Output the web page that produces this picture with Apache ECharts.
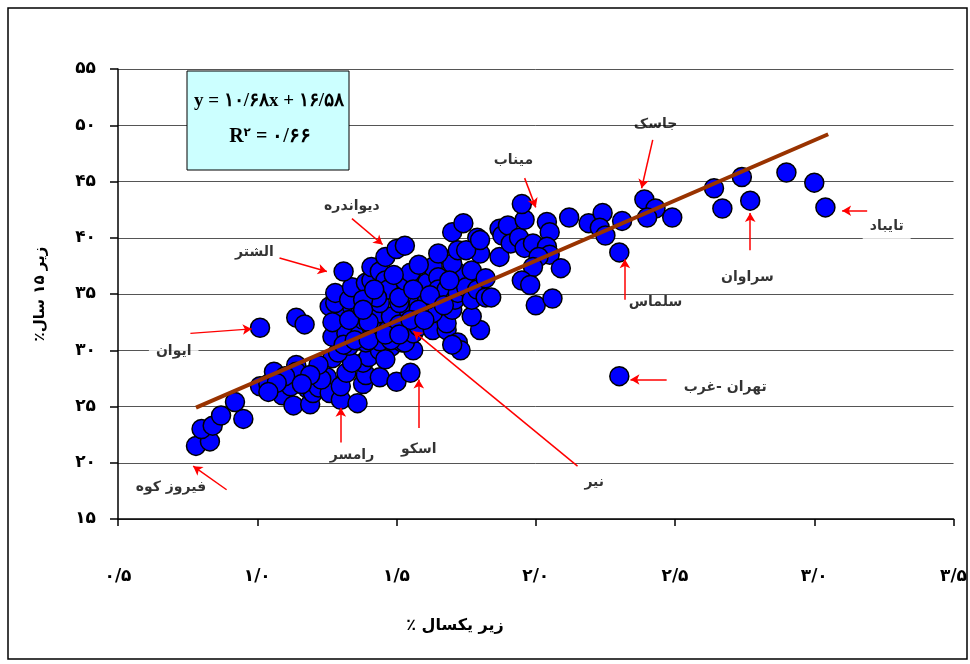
<!DOCTYPE html>
<html>
<head>
<meta charset="utf-8">
<script src="https://cdn.jsdelivr.net/npm/echarts@6/dist/echarts.min.js"></script>
<style>
html,body{margin:0;padding:0;background:#fff;}
#chart{width:970px;height:664px;}
</style>
</head>
<body>
<div id="chart"></div>
<script>
// ---- data ----
const xTickValues = [0.5, 1.0, 1.5, 2.0, 2.5, 3.0, 3.5];
const xTickLabels = ['۰/۵', '۱/۰', '۱/۵', '۲/۰', '۲/۵', '۳/۰', '۳/۵'];
const yTickValues = [15, 20, 25, 30, 35, 40, 45, 50, 55];
const yTickLabels = ['۱۵', '۲۰', '۲۵', '۳۰', '۳۵', '۴۰', '۴۵', '۵۰', '۵۵'];

const xTitle = 'زیر یکسال ٪';
const yTitle = 'زیر ۱۵ سال٪';
const equationLine = 'y = ۱۰/۶۸x + ۱۶/۵۸';
const r2Value = '۰/۶۶';

// under-one-year % (x) and under-15 % (y) for each county
const pointsX = [
  0.78,0.83,0.80,0.84,0.87,0.92,0.95,1.01,1.04,1.06,1.09,1.11,1.13,1.14,1.12,1.19,1.18,1.20,1.21,1.22,
  1.25,1.26,1.14,1.10,1.23,1.27,1.30,1.36,1.30,1.32,1.38,1.39,1.44,1.50,1.55,1.38,1.40,1.32,1.34,1.29,
  1.44,1.48,1.52,1.56,1.46,1.39,1.33,1.27,1.32,1.37,1.41,1.47,1.53,1.44,1.48,1.31,1.38,1.44,1.50,1.26,
  1.34,1.27,1.33,1.40,1.01,1.14,1.17,1.56,1.58,1.63,1.68,1.68,1.72,1.73,1.70,1.80,1.63,1.70,1.77,1.53,
  1.48,1.51,1.58,1.44,1.37,1.28,1.28,1.33,1.34,1.31,1.39,1.41,1.41,1.44,1.46,1.50,1.53,1.46,1.47,1.43,
  1.51,1.53,1.57,1.55,1.61,1.63,1.65,1.65,1.68,1.61,1.71,1.72,1.72,1.70,1.75,1.77,1.77,1.79,1.82,1.82,
  1.84,1.87,1.80,1.72,1.65,1.70,1.74,1.79,1.75,1.80,1.87,1.88,1.90,1.91,1.94,1.96,1.99,1.96,1.95,2.04,
  2.05,2.04,2.05,2.01,1.99,1.95,1.98,2.00,2.06,2.09,2.12,2.19,2.24,2.23,2.25,2.31,2.30,2.39,2.43,2.40,
  2.49,2.64,2.67,2.74,2.77,2.90,3.00,3.04,2.30,1.56,1.58,1.62,1.67,1.51,1.55,1.60,1.38,1.42,1.49,1.58,
  1.69,1.31,1.35,1.40,1.46,1.51,1.38,1.22,1.19,1.16,1.07,1.04
];
const pointsY = [
  21.5,21.9,23.0,23.3,24.2,25.4,23.9,26.8,27.0,28.1,26.0,27.7,25.1,28.7,26.8,25.2,26.6,26.2,27.6,26.7,
  27.6,26.2,28.1,27.7,27.4,29.3,25.6,25.3,26.8,28.0,27.0,27.8,27.6,27.2,28.0,28.9,29.4,30.0,28.9,29.8,
  30.0,30.3,30.7,30.0,29.2,30.7,30.4,31.2,31.5,31.5,32.1,31.8,30.7,30.8,30.9,33.0,32.7,33.3,32.7,33.9,
  33.9,32.5,32.7,32.5,32.0,32.9,32.3,31.5,32.1,31.8,31.8,32.4,30.7,30.0,30.5,31.8,33.3,33.6,33.0,33.3,
  33.0,34.2,34.2,34.2,33.9,34.2,35.1,34.5,35.6,37.0,36.0,36.2,37.4,37.0,38.3,39.0,39.3,36.2,35.4,34.7,
  34.7,36.2,36.0,36.9,36.0,37.4,36.5,35.4,35.4,34.5,34.5,35.1,36.9,37.7,35.6,37.1,34.5,35.4,36.4,34.7,
  34.7,38.3,38.6,38.9,38.6,40.5,41.3,40.0,38.9,39.8,40.8,40.2,41.1,39.5,40.0,39.1,39.5,41.6,43.0,41.4,
  40.5,39.2,38.5,38.3,37.4,36.2,35.8,34.0,34.6,37.3,41.8,41.3,42.2,40.9,40.2,41.5,38.7,43.4,42.6,41.8,
  41.8,44.4,42.6,45.4,43.3,45.8,44.9,42.7,27.7,35.4,33.6,34.9,34.0,32.3,32.7,32.7,34.5,35.4,36.7,37.6,
  36.2,30.5,30.9,30.9,31.4,31.4,33.6,28.7,27.8,27.0,27.1,26.3
];

// fitted trend line end points
const trendX = [0.78, 3.05];
const trendY = [24.9, 49.2];

// county annotations: label position and arrow (from -> to)
const annNames = ['فیروز کوه', 'الشتر', 'دیواندره', 'میناب', 'جاسک', 'سلماس', 'سراوان', 'تایباد', 'ایوان', 'رامسر', 'اسکو', 'نیر', 'تهران -غرب'];
const annLabelX = [0.69, 0.99, 1.34, 1.92, 2.43, 2.43, 2.76, 3.26, 0.70, 1.34, 1.58, 2.21, 2.68];
const annLabelY = [17.8, 38.7, 42.8, 46.9, 50.1, 34.3, 36.5, 41.0, 29.9, 20.7, 21.2, 18.3, 26.7];
const arrowFromX = [0.89, 1.08, 1.34, 1.96, 2.42, 2.32, 2.77, 3.19, 0.76, 1.30, 1.58, 2.15, 2.47];
const arrowFromY = [17.6, 38.2, 41.7, 45.3, 48.7, 34.5, 38.9, 42.4, 31.5, 21.8, 23.1, 19.7, 27.4];
const arrowToX   = [0.77, 1.25, 1.45, 2.00, 2.38, 2.32, 2.77, 3.10, 0.98, 1.30, 1.58, 1.56, 2.34];
const arrowToY   = [19.7, 37.0, 39.4, 42.7, 44.4, 38.1, 42.2, 42.4, 31.9, 24.9, 27.4, 31.7, 27.4];
const annWhiteBg = [false, false, false, true, false, false, false, true, true, false, false, false, false];

// ---- chart ----
const FONT = '"DejaVu Sans", "Noto Sans", sans-serif';
const RLM = '\u200F'; // keeps right-to-left paragraph order (percent sign on the left)
const chart = echarts.init(document.getElementById('chart'), null, {renderer: 'canvas'});

const points = pointsX.map((x, i) => [x, pointsY[i]]);
const trend = trendX.map((x, i) => [x, trendY[i]]);
const arrows = annNames.map((n, i) => [
  {coord: [arrowFromX[i], arrowFromY[i]]},
  {coord: [arrowToX[i], arrowToY[i]]}
]);
const labels = annNames.map((n, i) => ({
  name: n,
  value: [annLabelX[i], annLabelY[i]],
  label: annWhiteBg[i] ? {backgroundColor: '#fff', padding: i === 3 ? [3, 8, 14, 8] : [4, 7, 8, 7]} : {}
}));

const option = {
  animation: false,
  backgroundColor: '#fff',
  grid: {left: 118, right: 16, top: 69, bottom: 145, containLabel: false},
  xAxis: {
    type: 'value', min: 0.5, max: 3.5, interval: 0.5,
    axisLine: {show: true, onZero: false, lineStyle: {color: '#000', width: 1.5}},
    axisTick: {show: true, inside: false, length: 7, lineStyle: {color: '#000', width: 1.5}},
    axisLabel: {
      margin: 49, color: '#000', fontSize: 17, fontWeight: 'bold', fontFamily: FONT,
      formatter: v => { const k = xTickValues.findIndex(t => Math.abs(t - v) < 1e-6); return k >= 0 ? xTickLabels[k] : ''; }
    },
    splitLine: {show: false}
  },
  yAxis: {
    type: 'value', min: 15, max: 55, interval: 5,
    name: RLM + yTitle + RLM, nameLocation: 'middle', nameGap: 70, nameRotate: 90,
    nameTextStyle: {color: '#000', fontSize: 15, fontWeight: 'bold', fontFamily: FONT},
    axisLine: {show: true, onZero: false, lineStyle: {color: '#000', width: 1.5}},
    axisTick: {show: true, inside: false, length: 8, lineStyle: {color: '#000', width: 1.5}},
    axisLabel: {
      margin: 22, color: '#000', fontSize: 17, fontWeight: 'bold', fontFamily: FONT,
      formatter: v => { const k = yTickValues.indexOf(v); return k >= 0 ? yTickLabels[k] : ''; }
    },
    splitLine: {show: true, lineStyle: {color: '#555', width: 1}}
  },
  graphic: [
    {type: 'rect', shape: {x: 8, y: 8, width: 959, height: 651}, style: {fill: 'none', stroke: '#000', lineWidth: 1.5}, z: 0, silent: true},
    {type: 'rect', shape: {x: 187, y: 71, width: 162, height: 99}, style: {fill: '#CCFFFF', stroke: '#000', lineWidth: 1}, z: 50},
    {type: 'text', x: 269, y: 101, z: 51, style: {text: equationLine, fill: '#000', font: 'bold 19px "Liberation Serif", "DejaVu Serif", serif', textAlign: 'center', textVerticalAlign: 'middle'}},
    {type: 'text', x: 270, y: 137, z: 51, style: {
      text: '{r|R}{s|۲}{r| = ' + r2Value + '}',
      textAlign: 'center', textVerticalAlign: 'middle',
      rich: {
        r: {fill: '#000', font: 'bold 20px "Liberation Serif", "DejaVu Serif", serif'},
        s: {fill: '#000', font: 'bold 12px "DejaVu Sans", sans-serif', verticalAlign: 'top', padding: [0, 0, 8, 0]}
      }
    }},
    {type: 'text', x: 455, y: 626, z: 51, style: {
      text: RLM + xTitle + RLM, fill: '#000', font: 'bold 16px ' + FONT,
      textAlign: 'center', textVerticalAlign: 'middle'
    }}
  ],
  series: [
    {
      type: 'scatter', data: points, symbol: 'circle', symbolSize: 19, z: 3,
      itemStyle: {color: '#0000FF', borderColor: '#000', borderWidth: 1.5, opacity: 1},
      markLine: {
        silent: true, symbol: ['none', 'arrow'], symbolSize: [8, 9], precision: 3,
        label: {show: false},
        lineStyle: {color: '#FF0000', width: 1.5, type: 'solid'},
        data: arrows
      }
    },
    {
      type: 'line', data: trend, symbol: 'none', z: 5,
      lineStyle: {color: '#993300', width: 4}
    },
    {
      type: 'scatter', data: labels, symbolSize: 0, z: 6, silent: true,
      itemStyle: {color: 'transparent'},
      label: {
        show: true, position: 'inside', formatter: p => RLM + p.name + RLM,
        color: '#000', fontSize: 14, fontWeight: 'bold', fontFamily: FONT
      }
    }
  ]
};
chart.setOption(option);
</script>
</body>
</html>
